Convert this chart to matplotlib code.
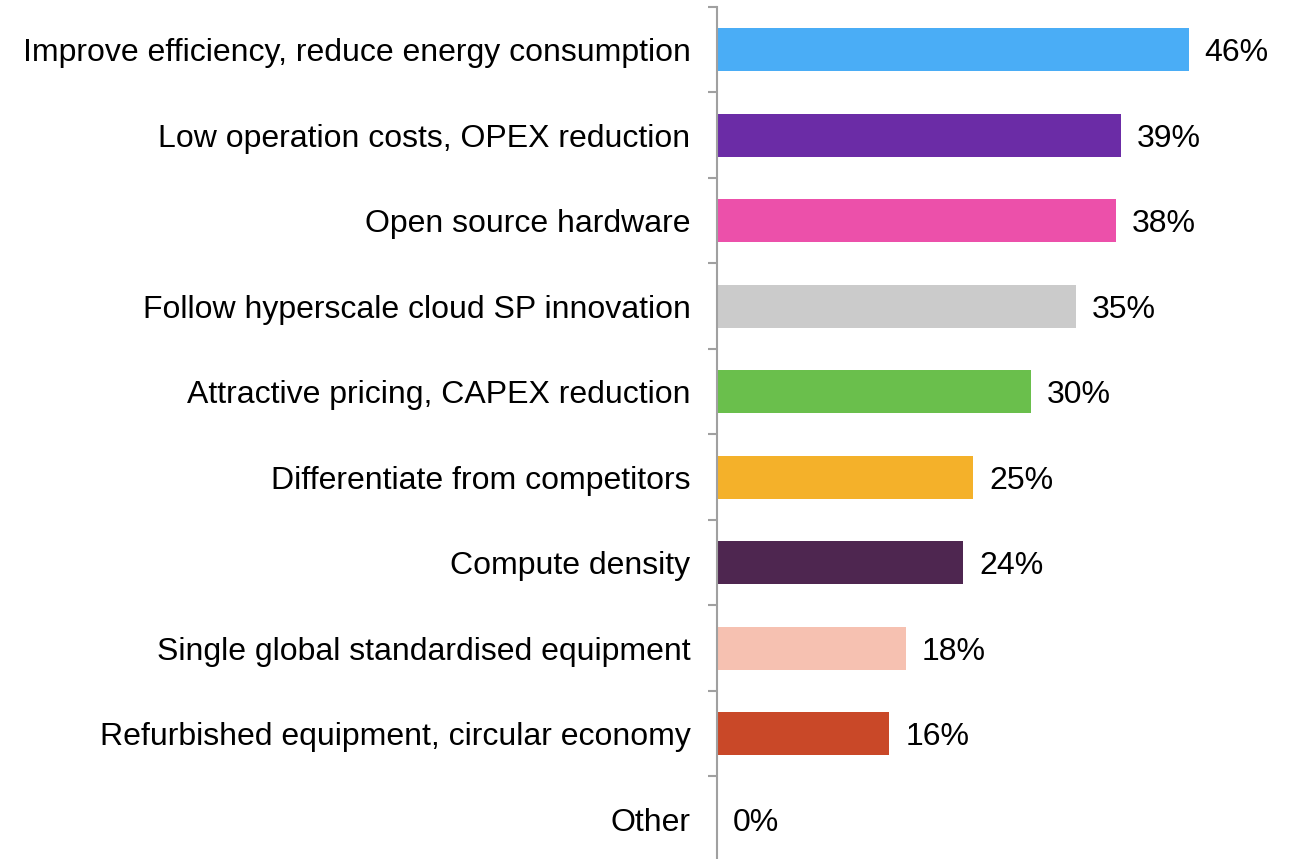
import numpy as np
import matplotlib.pyplot as plt

plt.rcParams['font.family'] = ['Liberation Sans', 'DejaVu Sans']

categories = [
    'Improve efficiency, reduce energy consumption',
    'Low operation costs, OPEX reduction',
    'Open source hardware',
    'Follow hyperscale cloud SP innovation',
    'Attractive pricing, CAPEX reduction',
    'Differentiate from competitors',
    'Compute density',
    'Single global standardised equipment',
    'Refurbished equipment, circular economy',
    'Other',
]
values = [46.0, 39.4, 38.9, 35.0, 30.6, 25.0, 24.0, 18.4, 16.8, 0.0]
value_labels = ['46%', '39%', '38%', '35%', '30%', '25%', '24%', '18%', '16%', '0%']
colors = ['#4AADF6', '#6B2CA6', '#EC50AA', '#CBCBCB', '#6ABF4C',
          '#F4B12A', '#4E2650', '#F6C1B1', '#C94828', '#FFFFFF']

W, H = 1291, 859
fig = plt.figure(figsize=(W / 100, H / 100), dpi=100)
ax = fig.add_axes([717 / W, -3 / H, 564 / W, 855 / H])

y = np.arange(len(categories))
ax.barh(y, values, height=0.5, color=colors)
ax.set_xlim(0, 55)
ax.set_ylim(len(categories) - 0.5, -0.5)

for yi, v, lab in zip(y, values, value_labels):
    ax.annotate(lab, (v, yi), xytext=(11.5, -2.5), textcoords='offset points',
                va='center', ha='left', fontsize=23, color='black')

ax.set_yticks(y)
ax.set_yticklabels(categories, fontsize=23)
ax.tick_params(axis='y', which='major', length=0, pad=19)
ax.set_yticks(np.arange(len(categories) + 1) - 0.5, minor=True)
ax.tick_params(axis='y', which='minor', length=6.5, width=1.5, color='#A0A0A0')
ax.set_xticks([])
for s in ['top', 'right', 'bottom']:
    ax.spines[s].set_visible(False)
ax.spines['left'].set_color('#A0A0A0')
ax.spines['left'].set_linewidth(1.5)

fig.savefig('out.png', dpi=100)
